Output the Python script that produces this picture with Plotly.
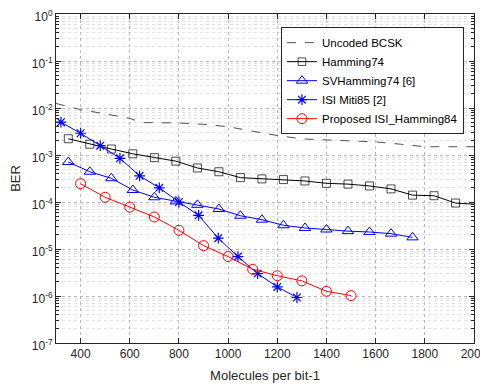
import plotly.graph_objects as go

# ---- data ----
uncoded_x = [300, 400, 500, 600, 650, 800, 900, 1000, 1100, 1200, 1300, 1400, 1500, 1600, 1700, 1800, 1900, 2000]
uncoded_y = [0.0125, 0.0092, 0.0075, 0.006, 0.0049, 0.0048, 0.0045, 0.004, 0.0032, 0.0026, 0.0022, 0.0021, 0.002, 0.0019, 0.0017, 0.0015, 0.0015, 0.0015]

ham_x = [350, 437.5, 525, 612.5, 700, 787.5, 875, 962.5, 1050, 1137.5, 1225, 1312.5, 1400, 1487.5, 1575, 1662.5, 1750, 1837.5, 1925, 2000]
ham_y = [0.00222, 0.0017, 0.00134, 0.00106, 0.00088, 0.00074, 0.00053, 0.00044, 0.00033, 0.00031, 0.0003, 0.00028, 0.00025, 0.00024, 0.00022, 0.00019, 0.00014, 0.000136, 0.000095, 0.00009]

sv_x = [350, 437.5, 525, 612.5, 700, 787.5, 875, 962.5, 1050, 1137.5, 1225, 1312.5, 1400, 1487.5, 1575, 1662.5, 1750]
sv_y = [0.00071, 0.00044, 0.00032, 0.00018, 0.000126, 0.000103, 0.000087, 0.000071, 0.000051, 0.000042, 0.000032, 0.000028, 0.000026, 0.000024, 0.000023, 0.0000212, 0.0000177]

isi_x = [320, 400, 480, 560, 640, 720, 800, 880, 960, 1040, 1120, 1200, 1280]
isi_y = [0.0050, 0.0029, 0.00158, 0.00085, 0.00036, 0.0002, 0.0001, 0.000052, 0.000017, 0.0000069, 0.0000030, 0.00000156, 0.00000093]

prop_x = [400, 500, 600, 700, 800, 900, 1000, 1100, 1200, 1300, 1400, 1500]
prop_y = [0.000245, 0.000126, 0.000078, 0.000048, 0.000025, 0.0000118, 0.0000069, 0.0000037, 0.0000027, 0.0000021, 0.00000126, 0.00000102]

x_ticks = [400, 600, 800, 1000, 1200, 1400, 1600, 1800, 2000]
y_exps = [-7, -6, -5, -4, -3, -2, -1, 0]

FONT = "Liberation Sans, Arial, sans-serif"

fig = go.Figure()
fig.add_trace(go.Scatter(x=uncoded_x, y=uncoded_y, mode="lines", name="Uncoded BCSK",
                         line=dict(color="#505050", width=1, dash="dash")))
ham_sizes = [8] * (len(ham_x) - 1) + [0]
fig.add_trace(go.Scatter(x=ham_x, y=ham_y, mode="lines+markers", name="Hamming74",
                         line=dict(color="black", width=1),
                         marker=dict(symbol="square-open", size=ham_sizes, color="black", line=dict(width=1))))
fig.add_trace(go.Scatter(x=sv_x, y=sv_y, mode="lines+markers", name="SVHamming74 [6]",
                         line=dict(color="#0000ff", width=1),
                         marker=dict(symbol="triangle-up-open", size=10, color="#0000ff", line=dict(width=1))))
fig.add_trace(go.Scatter(x=isi_x, y=isi_y, mode="lines+markers", name="ISI Miti85 [2]",
                         line=dict(color="#0000ff", width=1),
                         marker=dict(symbol="asterisk-open", size=9, color="#0000ff", line=dict(width=1.2, color="#0000ff"))))
fig.add_trace(go.Scatter(x=prop_x, y=prop_y, mode="lines+markers", name="Proposed ISI_Hamming84",
                         line=dict(color="#ff0000", width=1),
                         marker=dict(symbol="circle-open", size=10, color="#ff0000", line=dict(width=1))))

minor_vals = [m * 10 ** e for e in range(-7, 0) for m in range(2, 10)]

fig.update_layout(
    width=480, height=377,
    margin=dict(l=48, r=14, t=6, b=42, autoexpand=False),
    paper_bgcolor="white", plot_bgcolor="white",
    font=dict(family=FONT, size=12, color="#262626"),
    showlegend=True,
    legend=dict(x=0.976, y=0.96, xanchor="right", yanchor="top",
                bgcolor="white", bordercolor="#262626", borderwidth=1,
                font=dict(family=FONT, size=11.5, color="#000"),
                tracegroupgap=0, itemwidth=30),
)
fig.update_xaxes(
    range=[300, 2000], tickvals=x_ticks, ticktext=[str(v) for v in x_ticks],
    ticks="inside", ticklen=5, tickcolor="#262626",
    showline=True, linecolor="#262626", linewidth=1, mirror="allticks",
    showgrid=True, gridcolor="#b8b8b8", griddash="dot", gridwidth=1,
    zeroline=False, automargin=False, ticklabeloverflow="allow",
    title=dict(text="Molecules per bit-1", font=dict(size=13, family=FONT, color="#262626"), standoff=10),
    tickfont=dict(size=12, family=FONT, color="#262626"),
)
fig.update_yaxes(
    type="log", range=[-7, 0],
    tickvals=[10 ** e for e in y_exps], ticktext=["10<sup>%d</sup>" % e for e in y_exps],
    ticks="inside", ticklen=5, tickcolor="#262626",
    showline=True, linecolor="#262626", linewidth=1, mirror="allticks",
    showgrid=True, gridcolor="#b8b8b8", griddash="dot", gridwidth=1,
    minor=dict(tickvals=minor_vals, ticks="inside", ticklen=3, tickcolor="#262626",
               showgrid=True, gridcolor="#e2e2e2", griddash="dot", gridwidth=1),
    zeroline=False, automargin=False, ticklabeloverflow="allow", ticklabelshift=3,
    title=dict(text="BER", font=dict(size=13, family=FONT, color="#262626"), standoff=11),
    tickfont=dict(size=12, family=FONT, color="#262626"),
)

fig.write_html("out.html")
